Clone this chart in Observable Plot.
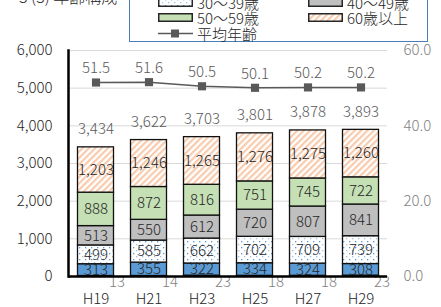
<!DOCTYPE html>
<html><head><meta charset="utf-8">
<script src="https://cdn.jsdelivr.net/npm/d3@7"></script>
<script src="https://cdn.jsdelivr.net/npm/@observablehq/plot@0.6"></script>
<style>
body{margin:0;background:#fff;font-family:"Noto Sans CJK JP","Noto Sans",sans-serif;font-weight:300;}
#wrap{position:relative;width:441px;height:307px;overflow:hidden;}
#title{position:absolute;left:19px;top:-12px;font-size:16px;line-height:16px;color:#262626;white-space:nowrap;}
#legend{position:absolute;left:129px;top:-41px;width:299px;height:83px;border:1px solid #4a7ebb;background:#fff;box-sizing:border-box;}
.li{position:absolute;font-size:15px;line-height:15px;color:#262626;white-space:nowrap;display:flex;align-items:center;}
.li svg{margin-right:4px;}
#chart{position:absolute;left:0;top:0;}
</style></head>
<body>
<div id="wrap">
<div id="chart"></div>
<div id="title">3 (3) 年齢構成</div>
<div id="legend"></div>
</div>
<script>
const years = ["H19","H21","H23","H25","H27","H29"];
const series = ["20歳未満","20～29歳","30～39歳","40～49歳","50～59歳","60歳以上"];
const under20 = [13,14,23,18,18,23];
const age20s = [313,355,322,334,324,308];
const age30s = [499,585,662,702,709,739];
const age40s = [513,550,612,720,807,841];
const age50s = [888,872,816,751,745,722];
const age60plus = [1203,1246,1265,1276,1275,1260];
const totals = [3434,3622,3703,3801,3878,3893];
const avgAge = [51.5,51.6,50.5,50.1,50.2,50.2];
const avgLabel = "平均年齢";

const fills = ["#2e75b6","#5b9bd5","url(#dots)","#bfbfbf","#c5e0b4","url(#hatch)"];
const seriesValues = [under20, age20s, age30s, age40s, age50s, age60plus];

const rows = [];
years.forEach((y, i) => series.forEach((s, j) => rows.push({year: y, series: s, value: seriesValues[j][i]})));
const yearRows = years.map((y, i) => ({year: y, under20: under20[i], total: totals[i], age: avgAge[i]}));
const fmt = d3.format(",");
const font = '"Noto Sans CJK JP","Noto Sans",sans-serif';

const plot = Plot.plot({
  width: 441, height: 307,
  marginTop: 50, marginBottom: 31, marginLeft: 68, marginRight: 54,
  style: {fontFamily: font, fontSize: "15px", fontWeight: 300, background: "transparent"},
  x: {domain: years, padding: 0, axis: null, label: null},
  y: {domain: [0, 6000], axis: null, label: null},
  color: {domain: series, range: fills},
  marks: [
    Plot.gridY([1000,2000,3000,4000,5000,6000], {stroke: "#d9d9d9", strokeOpacity: 1, strokeWidth: 1}),
    Plot.barY(rows, Plot.stackY({x: "year", y: "value", fill: "series", stroke: "#111", strokeWidth: 1.3, insetLeft: 8.5, insetRight: 8.5})),
    Plot.text(rows, Plot.stackY({x: "year", y: "value", z: "series", text: d => d.series === series[0] ? null : fmt(d.value), fill: "#262626", fontSize: 15})),
    Plot.text(yearRows, {x: "year", y: 0, text: d => d.under20, dx: 21, dy: 6, fill: "#7f7f7f", fontSize: 15}),
    Plot.text(yearRows, {x: "year", y: "total", text: d => fmt(d.total), dy: -18, fill: "#595959", fontSize: 15}),
    Plot.ruleY([0], {stroke: "#000", strokeWidth: 2.5}),
    Plot.frame({anchor: "left", stroke: "#000", strokeWidth: 2.5}),
    Plot.line(yearRows, {x: "year", y: d => d.age * 100, stroke: "#595959", strokeWidth: 1.5}),
    Plot.dot(yearRows, {x: "year", y: d => d.age * 100, symbol: "square", r: 4.6, fill: "#595959", stroke: "none"}),
    Plot.text(yearRows, {x: "year", y: d => d.age * 100, text: d => d.age.toFixed(1), dy: -14, fill: "#595959", fontSize: 15}),
    Plot.axisX({tickSize: 0, tickPadding: 17, fill: "#262626", fontSize: 15, label: null}),
    Plot.axisY([0,1000,2000,3000,4000,5000,6000], {anchor: "left", tickSize: 0, tickPadding: 16, tickFormat: fmt, fill: "#262626", fontSize: 15, label: null}),
    Plot.axisY([0,2000,4000,6000], {anchor: "right", tickSize: 0, tickPadding: 16, tickFormat: d => (d / 100).toFixed(1), fill: "#7f7f7f", fontSize: 15, label: null})
  ]
});

const defs = d3.select(plot).insert("defs", ":first-child");
const dots = defs.append("pattern").attr("id", "dots").attr("patternUnits", "userSpaceOnUse").attr("width", 6).attr("height", 6);
dots.append("rect").attr("width", 6).attr("height", 6).attr("fill", "#fff");
dots.append("rect").attr("x", 1).attr("y", 1).attr("width", 1.3).attr("height", 1.3).attr("fill", "#5b9bd5");
dots.append("rect").attr("x", 4).attr("y", 4).attr("width", 1.3).attr("height", 1.3).attr("fill", "#9dc3e6");
const hatch = defs.append("pattern").attr("id", "hatch").attr("patternUnits", "userSpaceOnUse").attr("width", 4.5).attr("height", 4.5).attr("patternTransform", "rotate(45)");
hatch.append("rect").attr("width", 4.5).attr("height", 4.5).attr("fill", "#fff");
hatch.append("rect").attr("width", 2.2).attr("height", 4.5).attr("fill", "#f8cbad");
document.getElementById("chart").append(plot);

// legend
const legend = document.getElementById("legend");
const rowTops = [20, 35, 50];
series.forEach((s, j) => {
  const div = document.createElement("div");
  div.className = "li";
  div.style.left = (j % 2 === 0 ? 28 : 178) + "px";
  div.style.top = rowTops[Math.floor(j / 2)] + "px";
  div.innerHTML = `<svg width="35" height="9"><rect x="0.75" y="0.75" width="33.5" height="7.5" fill="${fills[j]}" stroke="#262626" stroke-width="1.5"/></svg>${s}`;
  legend.append(div);
});
const ld = document.createElement("div");
ld.className = "li";
ld.style.left = "28px"; ld.style.top = "66px";
ld.innerHTML = `<svg width="35" height="9"><line x1="0" x2="35" y1="4.5" y2="4.5" stroke="#595959" stroke-width="1.5"/><rect x="13" y="0.5" width="8" height="8" fill="#595959"/></svg>${avgLabel}`;
legend.append(ld);
</script>
</body></html>
